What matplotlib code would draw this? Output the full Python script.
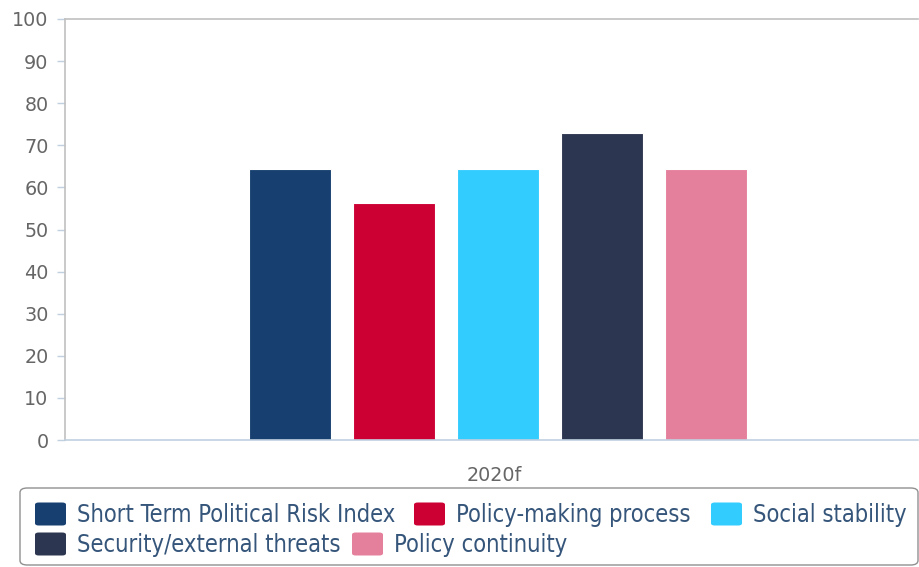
import matplotlib
matplotlib.use("Agg")
import matplotlib.pyplot as plt
from matplotlib.patches import FancyBboxPatch
import numpy as np

categories = ["2020f"]
series_names = [
    "Short Term Political Risk Index",
    "Policy-making process",
    "Social stability",
    "Security/external threats",
    "Policy continuity",
]
series_values = [64.4, 56.2, 64.4, 73.0, 64.4]
series_colors = ["#173f70", "#cc0033", "#33ccff", "#2d3650", "#e5809c"]
y_ticks = list(range(0, 101, 10))

W, H = 919, 567
fig = plt.figure(figsize=(W / 100, H / 100), dpi=100)
ax = fig.add_axes([65 / W, 1 - 440 / H, (918 - 65) / W, (440 - 19) / H])

# grouped bars around the single category
n = len(series_values)
step = 104 / 853
width = 82 / 853
offsets = (np.arange(n) - (n - 1) / 2) * step + 0.008
for off, v, c in zip(offsets, series_values, series_colors):
    ax.bar(off, v, width=width, color=c, edgecolor="white", linewidth=0.8, zorder=2)

ax.set_xlim(-0.5, 0.5)
ax.set_ylim(0, 100)
ax.set_yticks(y_ticks)
ax.set_xticks([0.003])
ax.set_xticklabels(categories)

ax.tick_params(axis="y", length=5.8, width=1, color="#c0d0e0", labelcolor="#666666",
               labelsize=13.8, pad=6)
ax.tick_params(axis="x", length=0, labelcolor="#666666", labelsize=13.8, pad=19)
for lab in ax.get_yticklabels() + ax.get_xticklabels():
    lab.set_fontfamily("DejaVu Sans")

ax.spines["left"].set_color("#c0c0c0")
ax.spines["top"].set_color("#c0c0c0")
ax.spines["right"].set_visible(False)
ax.spines["bottom"].set_color("#c0d0e0")
for s in ax.spines.values():
    s.set_linewidth(1.2)

# legend box with flowing items
def px(x, y):
    return x / W, 1 - y / H

box = FancyBboxPatch(px(20, 565), (918 - 20) / W, (565 - 488) / H,
                     boxstyle="round,pad=0,rounding_size=0.008",
                     transform=fig.transFigure, facecolor="white",
                     edgecolor="#909090", linewidth=1.0)
fig.patches.append(box)

legend_slots = [(35, 514), (414, 514), (711, 514), (35, 544), (352, 544)]
for (sx, sy), name, c in zip(legend_slots, series_names, series_colors):
    sw = FancyBboxPatch(px(sx, sy + 11.5), 31 / W, 23 / H,
                        boxstyle="round,pad=0,rounding_size=0.004",
                        transform=fig.transFigure, facecolor=c, edgecolor="none")
    fig.patches.append(sw)
    fig.text(*px(sx + 42, sy + 1), name, ha="left", va="center",
             fontsize=17, color="#35557a", fontfamily="DejaVu Sans",
             fontstretch="condensed")

fig.savefig("out.png", dpi=100)
